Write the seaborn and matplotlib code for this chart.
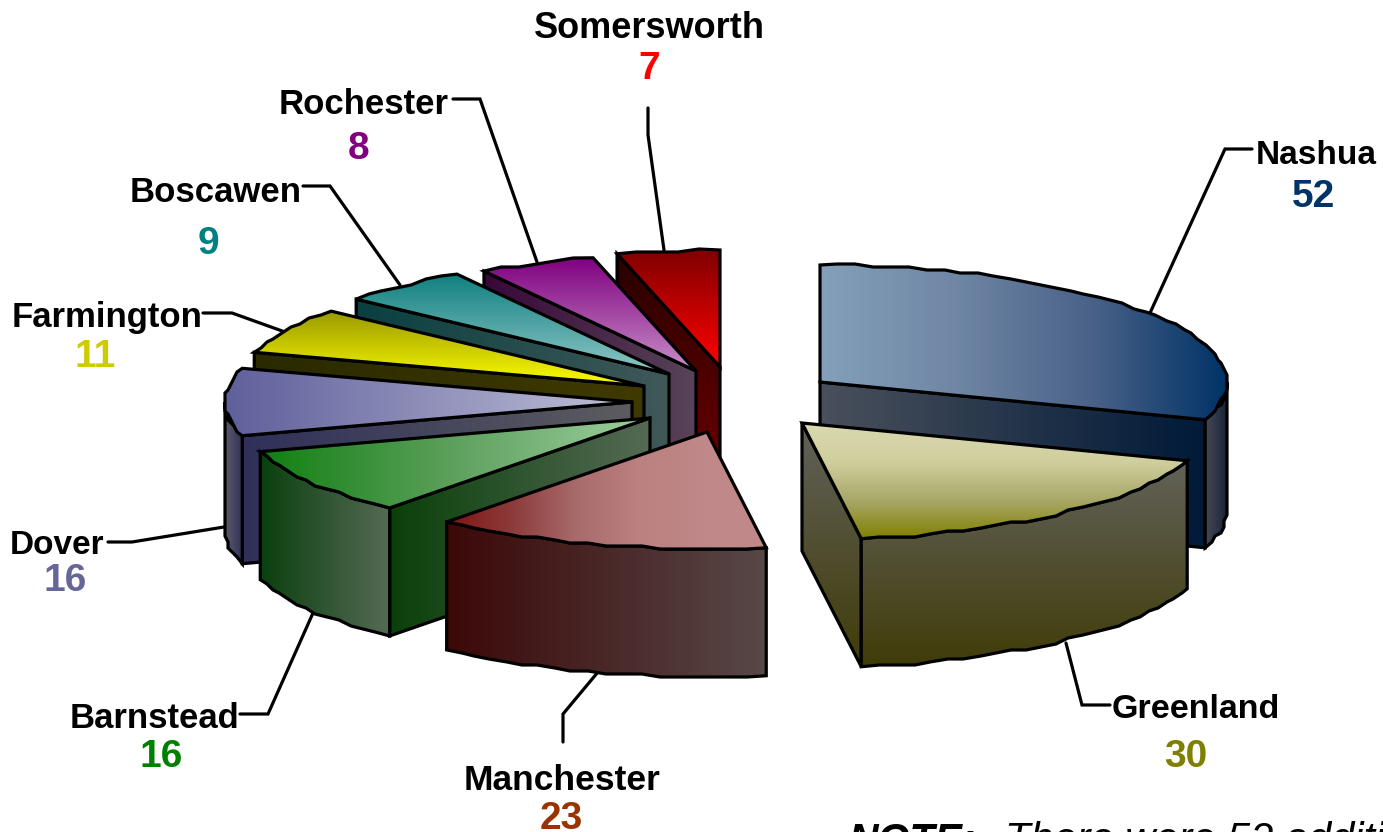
import numpy as np
import matplotlib
matplotlib.use('Agg')
import matplotlib.pyplot as plt
from matplotlib.patches import Polygon
import seaborn as sns

# Data, clockwise from 12 o'clock
cities = ['Nashua', 'Greenland', 'Manchester', 'Barnstead', 'Dover',
          'Farmington', 'Boscawen', 'Rochester', 'Somersworth']
counts = [52, 30, 23, 16, 16, 11, 9, 8, 7]
value_colors = ['#003366', '#808000', '#993300', '#008000', '#666699',
                '#cccc00', '#008080', '#800080', '#ff0000']

# Styling per slice: how far it is pulled out, and face gradients
explode = [(75, -18), (57, 23), (-38, 32), (-95, 18), (-113, 2),
           (-101, -14), (-76, -26), (-49, -29), (-25, -33)]
top_faces = [(['#84a0ba', '#6f86a4', '#4a6288', '#003366'], 'h'),
             (['#d9d9b0', '#cfcf9e', '#a8a868', '#808000'], 'v'),
             (['#801414', '#8c3a3a', '#a86a6a', '#bc8080', '#c08888', '#c08888'], 'h'),
             (['#108010', '#5ea05e', '#9fd0a0'], 'h'),
             (['#5f5f9c', '#c0c0d8'], 'h'), (['#999900', '#ffff00'], 'v'),
             (['#108080', '#90c8c8'], 'v'), (['#800080', '#c890c8'], 'v'),
             (['#800000', '#ff0000'], 'v')]
cut_faces = [(['#4a505c', '#001a38'], 'h'), (['#62625a', '#403c08'], 'v'),
             None, (['#0a400a', '#556a55'], 'h'),
             (['#30305a', '#5c5c60'], 'h'), (['#2a2a00', '#403a00'], 'h'),
             (['#0a4040', '#405858'], 'h'), (['#380838', '#584458'], 'h'),
             (['#280000', '#700000'], 'v')]
wall_faces = [(['#454a55', '#1a2338'], 'h'), (['#62625a', '#403c08'], 'v'),
              (['#3c0808', '#584848'], 'h'), (['#0a400f', '#556a55'], 'h'),
              (['#5c5c66', '#30305a'], 'h'), None, None, None, None]

# Label layout
name_pos = [(1316, 155), (1196, 709), (562, 780), (155, 719), (57, 546),
            (107, 317), (216, 193), (364, 104), (649, 29)]
value_pos = [(1313, 197), (1186, 757), (561, 819), (161, 757), (65, 581),
             (95, 357), (208, 244), (359, 149), (649, 69)]
name_sizes = [24, 24.5, 25.5, 25, 24, 25, 25, 25, 26]
leaders = [[(1252, 149), (1225, 149), (1150, 313)],
           [(1110, 705), (1082, 705), (1066, 643)],
           [(598, 672), (563, 714), (563, 742)],
           [(240, 714), (268, 714), (313, 613)],
           [(108, 542), (132, 542), (224, 527)],
           [(203, 313), (232, 313), (285, 332)],
           [(303, 186), (330, 186), (400, 285)],
           [(453, 99), (480, 99), (537, 262)],
           [(648, 108), (648, 135), (664, 250)]]

CX, CY = 745, 400
RX, RY = 407, 117
DEPTH = 128
LW = 2.3

sns.set_theme(style='white')
plt.rcParams['font.family'] = ['Liberation Sans', 'DejaVu Sans']

fig = plt.figure(figsize=(13.83, 8.32), dpi=100)
ax = fig.add_axes([0, 0, 1, 1])


def ell(theta):
    t = np.radians(theta)
    return RX * np.sin(t), -RY * np.cos(t)


def arc(a, b, ax0, ay0):
    # coarse stepped outline, the reference has a wobbly low-res rim
    n = max(int((b - a) / 2.5), 1)
    th = np.linspace(a, b, n + 1)
    x, y = ell(th)
    x, y = x + ax0, y + ay0
    x[1:-1] = np.round(x[1:-1] / 3.0) * 3.0
    y[1:-1] = np.round(y[1:-1] / 3.0) * 3.0
    return np.column_stack([x, y])


def face(pts, style, z):
    stops, direction = style
    pts = np.asarray(pts)
    cmap = sns.blend_palette(stops, as_cmap=True)
    grad = np.linspace(0, 1, 256)
    grad = grad[None, :] if direction == 'h' else grad[:, None]
    x0, x1 = pts[:, 0].min(), pts[:, 0].max()
    y0, y1 = pts[:, 1].min(), pts[:, 1].max()
    im = ax.imshow(grad, cmap=cmap, extent=(x0, x1, y1, y0), aspect='auto',
                   zorder=z, interpolation='bilinear')
    outline = Polygon(pts, closed=True, fc='none', ec='black', lw=LW,
                      joinstyle='miter', zorder=z + 0.1)
    ax.add_patch(outline)
    im.set_clip_path(outline)


edges = np.concatenate([[0], np.cumsum(counts)]) * 360 / sum(counts)
draw_order = [8, 7, 6, 5, 4, 3, 2, 0, 1]

for rank, i in enumerate(draw_order):
    a, b = edges[i], edges[i + 1]
    ax0, ay0 = CX + explode[i][0], CY + explode[i][1]
    z = 10 + rank

    # side cut, only the one turned to the viewer
    if cut_faces[i] is not None:
        th = a if a >= 180 else b
        dx, dy = ell(th)
        corner = (ax0 + dx, ay0 + dy)
        face([(ax0, ay0), corner, (corner[0], corner[1] + DEPTH),
              (ax0, ay0 + DEPTH)], cut_faces[i], z)

    # rim, front half of the ellipse only
    lo, hi = max(a, 90), min(b, 270)
    if wall_faces[i] is not None and lo < hi:
        rim = arc(lo, hi, ax0, ay0)
        low = rim[::-1] + np.array([0, DEPTH])
        face(np.vstack([rim, low]), wall_faces[i], z + 0.2)

    top = np.vstack([[(ax0, ay0)], arc(a, b, ax0, ay0)])
    face(top, top_faces[i], z + 0.4)

for i, city in enumerate(cities):
    xs, ys = zip(*leaders[i])
    ax.plot(xs, ys, color='black', lw=LW, solid_joinstyle='miter', zorder=5)
    ax.text(*name_pos[i], city, fontsize=name_sizes[i], fontweight='bold',
            color='black', ha='center', va='center', zorder=30)
    ax.text(*value_pos[i], str(counts[i]), fontsize=28, fontweight='bold',
            color=value_colors[i], ha='center', va='center', zorder=30)

ax.text(848, 852, 'NOTE:', fontsize=29.5, fontweight='bold', style='italic',
        color='black', ha='left', va='baseline', zorder=30)
ax.text(1005, 852, 'There were 52 additional', fontsize=30, style='italic',
        color='black', ha='left', va='baseline', zorder=30)

ax.set_xlim(0, 1383)
ax.set_ylim(832, 0)
ax.axis('off')
fig.savefig('out.png', dpi=100)
plt.close(fig)
